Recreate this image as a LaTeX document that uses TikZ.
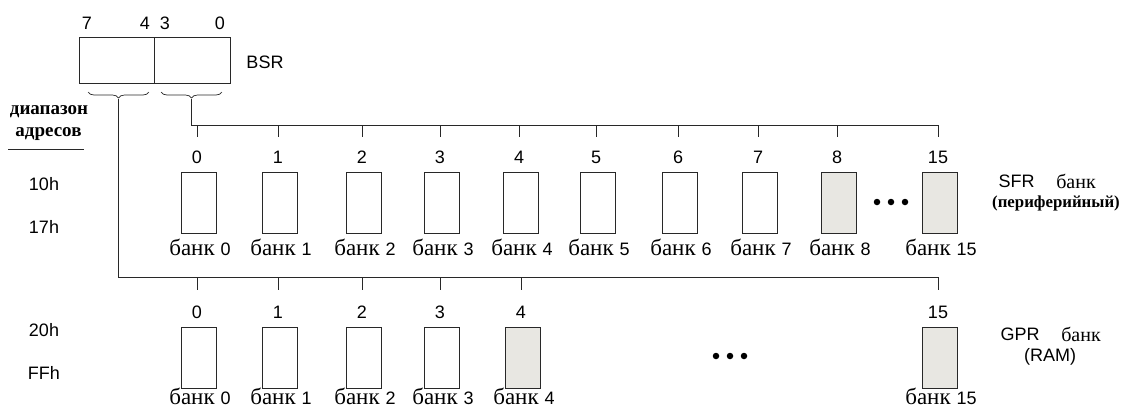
\documentclass[tikz,border=0pt]{standalone}
\usepackage{fontspec}
\setmainfont{Liberation Serif}
\setsansfont{Liberation Sans}
\usetikzlibrary{decorations.pathreplacing}
\definecolor{bankgrey}{RGB}{232,231,226}
\definecolor{linec}{RGB}{40,40,40}
\tikzset{
  bankbox/.style={draw=linec, line width=0.9pt, minimum width=35pt, minimum height=61pt, inner sep=0pt},
  greybox/.style={bankbox, fill=bankgrey},
  num/.style={font=\sffamily\fontsize{18}{18}\selectfont, inner sep=0pt},
  blab/.style={font=\fontsize{23}{23}\selectfont, inner sep=0pt, anchor=base},
  conn/.style={draw=linec, line width=0.9pt},
  dotc/.style={fill=black, circle, inner sep=0pt, minimum size=6.5pt},
  brc/.style={draw=linec, line width=0.7pt, decorate, decoration={brace, mirror, amplitude=6pt}},
  ruslab/.style={font=\bfseries\fontsize{19}{19}\selectfont, inner sep=0pt},
}
\newcommand{\bnk}[1]{банк\hspace{6pt}{\sffamily\fontsize{18}{18}\selectfont #1}}
\begin{document}
\begin{tikzpicture}[x=1pt, y=-1pt]
\useasboundingbox (0,0) rectangle (1122,408);
% BSR register
\node[draw=linec, line width=0.9pt, minimum width=75pt, minimum height=46pt, inner sep=0pt] (bsrL) at (116.5,60) {};
\node[draw=linec, line width=0.9pt, minimum width=76pt, minimum height=46pt, inner sep=0pt] (bsrR) at (192,60) {};
\node[num] (b7) at (87,23) {7};
\node[num] (b4) at (145,23) {4};
\node[num] (b3) at (165,23) {3};
\node[num] (b0) at (220,23) {0};
\node[num] (bsr) at (265,62) {BSR};
% braces
\draw[brc] (88,92) -- (149,92);
\draw[brc] (161,92) -- (222,92);
\coordinate (tipL) at (118.5,99);
\coordinate (tipR) at (191.5,99);
% left labels
\node[ruslab] (dia) at (49,112) {диапазон};
\node[ruslab] (adr) at (48.5,134) {адресов};
\coordinate (ulA) at (8,149);
\coordinate (ulB) at (84,149);
\draw[conn, line width=0.7pt] (ulA) -- (ulB);
\node[num] (h10) at (44,184) {10h};
\node[num] (h17) at (44,227) {17h};
\node[num] (h20) at (44,330) {20h};
\node[num] (hFF) at (44,373) {FFh};
% top bus
\coordinate (topL) at (191.5,125);
\coordinate (topR) at (938,125);
\draw[conn] (tipR) -- (topL) -- (topR);
% bottom bus
\coordinate (botL) at (118.5,277);
\coordinate (botR) at (938,277);
\draw[conn] (tipL) -- (botL) -- (botR);
% SFR banks
\foreach \n/\x/\s in {0/197/bankbox,1/278/bankbox,2/362/bankbox,3/440/bankbox,4/519/bankbox,5/596/bankbox,6/678/bankbox,7/758/bankbox,8/837/greybox,15/938/greybox}{
  \coordinate (st\n) at (\x,125);
  \coordinate (sb\n) at (\x,137);
  \draw[conn] (st\n) -- (sb\n);
  \node[num] (sn\n) at (\x,157) {\n};
  \node[\s] (sbox\n) at (\x+2,202.5) {};
  \node[blab] (sl\n) at (\x+3,255) {\bnk{\n}};
}
\node[dotc] (sd1) at (877,202) {};
\node[dotc] (sd2) at (891,202) {};
\node[dotc] (sd3) at (905,202) {};
\node[font=\sffamily\fontsize{18}{18}\selectfont, inner sep=0pt] (sfr) at (1016.5,181) {SFR};
\node[font=\fontsize{20}{20}\selectfont, inner sep=0pt] (sfrb) at (1076,181) {банк};
\node[font=\bfseries\fontsize{16.8}{16.8}\selectfont, inner sep=0pt] (per) at (1056,203) {(периферийный)};
% GPR banks
\foreach \n/\x/\s in {0/197/bankbox,1/278/bankbox,2/362/bankbox,3/440/bankbox,4/521/greybox,15/938/greybox}{
  \coordinate (gt\n) at (\x,277);
  \coordinate (gb\n) at (\x,290);
  \draw[conn] (gt\n) -- (gb\n);
  \node[num] (gn\n) at (\x,312) {\n};
  \node[\s] (gbox\n) at (\x+2,357.5) {};
  \node[blab] (gl\n) at (\x+3,404) {\bnk{\n}};
}
\node[dotc] (gd1) at (716,356) {};
\node[dotc] (gd2) at (730,356) {};
\node[dotc] (gd3) at (744,356) {};
\node[font=\sffamily\fontsize{18}{18}\selectfont, inner sep=0pt] (gpr) at (1020,334) {GPR};
\node[font=\fontsize{20}{20}\selectfont, inner sep=0pt] (gprb) at (1081,334) {банк};
\node[num] (ram) at (1050,357) {(RAM)};
\end{tikzpicture}
\end{document}
